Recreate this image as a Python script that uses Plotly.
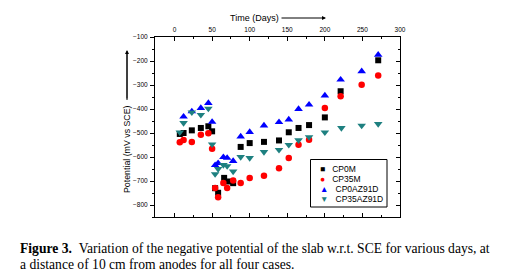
import plotly.graph_objects as go

# ---------------- data ----------------
cp0m_days = [7, 12, 23, 35, 45, 50, 54, 58, 66, 71, 78, 88, 100, 119, 139, 152, 165, 179, 200, 221, 271]
cp0m_vals = [-504, -500, -489, -479, -472, -493, -730, -749, -687, -702, -709, -558, -542, -537, -531, -497, -479, -467, -435, -326, -197]

cp35m_days = [7, 12, 23, 35, 45, 50, 54, 58, 65, 70, 78, 88, 100, 119, 139, 152, 165, 179, 200, 221, 249, 271]
cp35m_vals = [-539, -529, -537, -507, -501, -566, -729, -768, -708, -729, -698, -708, -687, -678, -647, -604, -549, -528, -396, -347, -299, -260]

cp0az_days = [12, 23, 35, 45, 50, 54, 58, 65, 70, 78, 88, 100, 119, 139, 152, 165, 179, 200, 221, 249, 271]
cp0az_vals = [-432, -410, -396, -375, -454, -634, -626, -601, -604, -617, -515, -496, -469, -455, -444, -400, -382, -344, -278, -243, -174]

cp35az_days = [7, 12, 23, 35, 45, 50, 54, 58, 65, 70, 78, 88, 100, 119, 139, 152, 165, 179, 200, 222, 249, 271]
cp35az_vals = [-497, -458, -414, -424, -398, -547, -671, -650, -633, -638, -660, -600, -604, -579, -570, -549, -530, -517, -497, -479, -469, -462]

series_names = ["CP0M", "CP35M", "CP0AZ91D", "CP35AZ91D"]
x_ticks = [0, 50, 100, 150, 200, 250, 300]
y_ticks = [-800, -700, -600, -500, -400, -300, -200, -100]

caption_line1 = "<b>Figure 3.</b>&nbsp;&nbsp;Variation of the negative potential of the slab w.r.t. SCE for various days, at"
caption_line2 = "a distance of 10 cm from anodes for all four cases."

# ---------------- styles ----------------
colors = ["#000000", "#ff0000", "#0000ff", "#1e8080"]
symbols = ["square", "circle", "triangle-up", "triangle-down"]
sizes = [6, 6.5, 7.5, 7.5]
glyphs = ["&#9632;", "&#9679;", "&#9650;", "&#9660;"]

W, H = 509, 276
L, R, T, B = 147, 117, 29, 67
PW, PH = W - L - R, H - T - B

def px_x(p):
    return (p - L) / PW

def px_y(p):
    return (H - B - p) / PH

fig = go.Figure()
for days, vals, name, c, s, sz in zip(
    [cp0m_days, cp35m_days, cp0az_days, cp35az_days],
    [cp0m_vals, cp35m_vals, cp0az_vals, cp35az_vals],
    series_names, colors, symbols, sizes):
    fig.add_trace(go.Scatter(x=days, y=vals, mode="markers", name=name,
                             marker=dict(color=c, symbol=s, size=sz, line=dict(width=0))))

# invisible trace to activate mirrored axes
fig.add_trace(go.Scatter(x=[cp0m_days[0]], y=[cp0m_vals[0]], xaxis="x2", yaxis="y2",
                         mode="markers", marker=dict(opacity=0), showlegend=False,
                         hoverinfo="skip"))

font = "Arial, Liberation Sans, sans-serif"
xr = [-26, 300]
yr = [-850, -100]

fig.update_layout(
    width=W, height=H, margin=dict(l=L, r=R, t=T, b=B),
    paper_bgcolor="white", plot_bgcolor="white", showlegend=False,
    font=dict(family=font, size=6, color="black"),
    xaxis=dict(side="top", range=xr, tickvals=x_ticks, ticks="inside", ticklen=4,
               tickcolor="black", showline=True, linecolor="black", linewidth=1,
               showgrid=False, zeroline=False, tickfont=dict(size=6.5), ticklabelstandoff=1,
               minor=dict(dtick=25, tick0=0, ticks="inside", ticklen=2, tickcolor="black")),
    xaxis2=dict(side="bottom", overlaying="x", range=xr, tickvals=x_ticks, ticks="inside",
                ticklen=4, tickcolor="black", showline=True, linecolor="black", linewidth=1,
                showgrid=False, zeroline=False, showticklabels=False,
                minor=dict(dtick=25, tick0=0, ticks="inside", ticklen=2, tickcolor="black")),
    yaxis=dict(range=yr, tickvals=y_ticks, ticks="outside", ticklen=4, tickcolor="black",
               showline=True, linecolor="black", linewidth=1, showgrid=False, zeroline=False,
               tickfont=dict(size=6.5), ticklabelstandoff=1,
               minor=dict(dtick=50, tick0=-100, ticks="outside", ticklen=2, tickcolor="black")),
    yaxis2=dict(side="right", overlaying="y", range=yr, tickvals=y_ticks, ticks="inside",
                ticklen=4, tickcolor="black", showline=True, linecolor="black", linewidth=1,
                showgrid=False, zeroline=False, showticklabels=False,
                minor=dict(dtick=50, tick0=-100, ticks="inside", ticklen=2, tickcolor="black")),
)

ann = []
# x title with arrow
ann.append(dict(xref="paper", yref="paper", x=px_x(246), y=px_y(10), text="Time (Days)",
                showarrow=False, font=dict(size=9, family=font), xanchor="center", yanchor="middle"))
ann.append(dict(xref="paper", yref="paper", x=px_x(318), y=px_y(10), ax=-46, ay=0,
                axref="pixel", ayref="pixel",
                text="", showarrow=True, arrowhead=2,
                arrowsize=0.8, arrowwidth=1, arrowcolor="black"))
# y title with arrow
ann.append(dict(xref="paper", yref="paper", x=px_x(119), y=px_y(141), text="Potential (mV vs SCE)",
                showarrow=False, textangle=-90, font=dict(size=8.8, family=font),
                xanchor="center", yanchor="middle"))
ann.append(dict(xref="paper", yref="paper", x=px_x(119), y=px_y(42), ax=0, ay=50,
                axref="pixel", ayref="pixel",
                text="", showarrow=True, arrowhead=2,
                arrowsize=0.8, arrowwidth=1, arrowcolor="black"))
# legend (compact)
for i, (name, c, g) in enumerate(zip(series_names, colors, glyphs)):
    ann.append(dict(xref="paper", yref="paper", x=px_x(310), y=px_y(160.5 + 10.2 * i),
                    text=f"<span style='color:{c}'>{g}</span>&nbsp;&nbsp;&nbsp;{name}",
                    showarrow=False, xanchor="left", yanchor="middle",
                    font=dict(size=8.5, family=font)))
# caption
serif = "Liberation Serif, Times New Roman, serif"
for txt, yc in [(caption_line1, 240.5), (caption_line2, 256.2)]:
    ann.append(dict(xref="paper", yref="paper", x=px_x(10), y=px_y(yc), text=txt,
                    showarrow=False, xanchor="left", yanchor="middle", align="left",
                    font=dict(size=13.6, family=serif)))
fig.update_layout(annotations=ann)

fig.add_shape(type="rect", xref="paper", yref="paper", x0=px_x(302.5), x1=px_x(379),
              y0=px_y(151.5), y1=px_y(199), line=dict(color="black", width=1))
fig.add_shape(type="line", xref="paper", yref="paper", x0=px_x(119), x1=px_x(119),
              y0=px_y(92), y1=px_y(46), line=dict(color="black", width=1))

fig.write_html("out.html")
